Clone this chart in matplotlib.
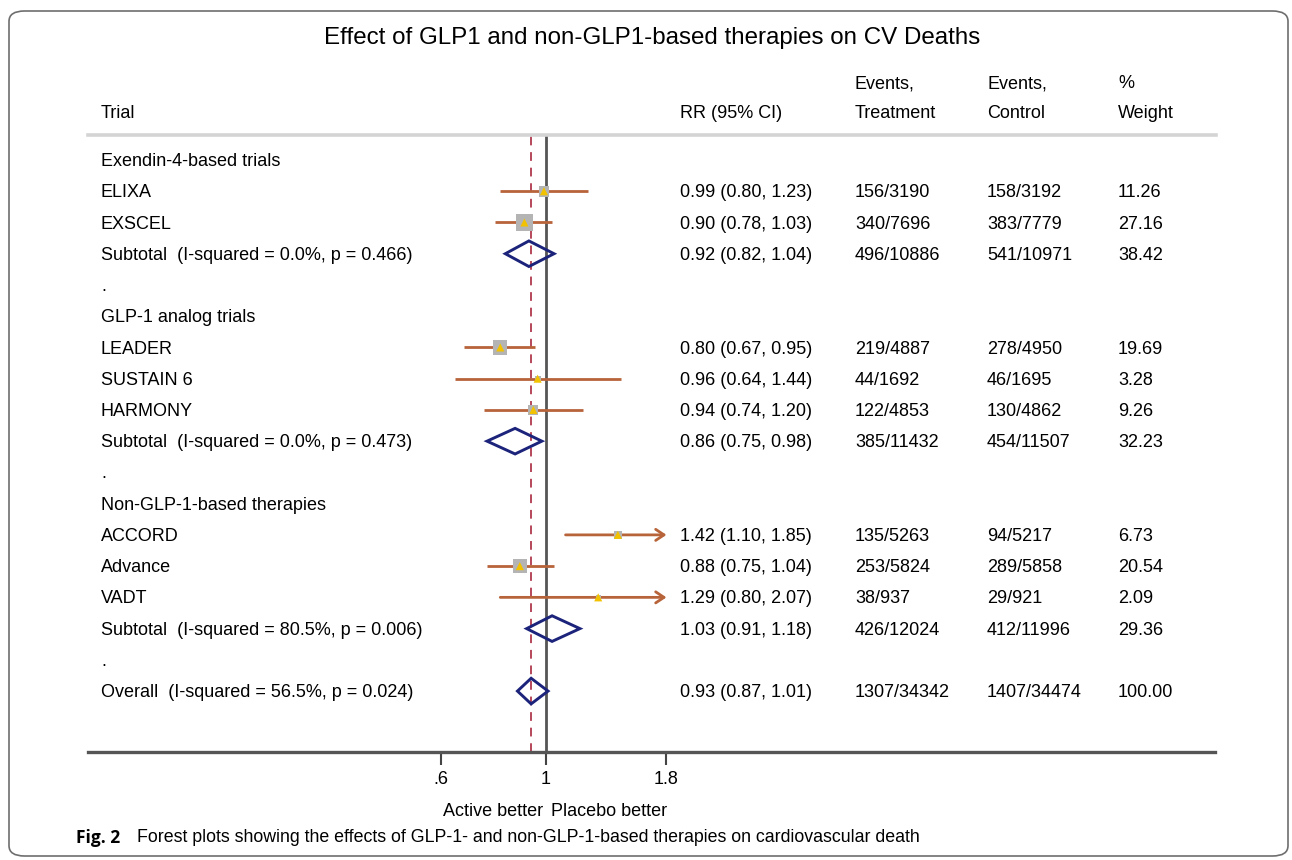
import numpy as np
import matplotlib
matplotlib.use("Agg")
import matplotlib.pyplot as plt
import matplotlib.transforms as mtransforms
from matplotlib.patches import FancyBboxPatch, Polygon

# ---- data ---------------------------------------------------------------
row_labels = [
    "Exendin-4-based trials", "ELIXA", "EXSCEL",
    "Subtotal  (I-squared = 0.0%, p = 0.466)", ".",
    "GLP-1 analog trials", "LEADER", "SUSTAIN 6", "HARMONY",
    "Subtotal  (I-squared = 0.0%, p = 0.473)", ".",
    "Non-GLP-1-based therapies", "ACCORD", "Advance", "VADT",
    "Subtotal  (I-squared = 80.5%, p = 0.006)", ".",
    "Overall  (I-squared = 56.5%, p = 0.024)",
]
# row type: h = heading / blank, t = trial, s = subtotal / overall diamond
row_kind = ["h", "t", "t", "s", "h", "h", "t", "t", "t", "s", "h",
            "h", "t", "t", "t", "s", "h", "s"]
rr = [None, 0.99, 0.90, 0.92, None, None, 0.80, 0.96, 0.94, 0.86, None,
      None, 1.42, 0.88, 1.29, 1.03, None, 0.93]
ci_low = [None, 0.80, 0.78, 0.82, None, None, 0.67, 0.64, 0.74, 0.75, None,
          None, 1.10, 0.75, 0.80, 0.91, None, 0.87]
ci_high = [None, 1.23, 1.03, 1.04, None, None, 0.95, 1.44, 1.20, 0.98, None,
           None, 1.85, 1.04, 2.07, 1.18, None, 1.01]
events_treat = ["", "156/3190", "340/7696", "496/10886", "", "",
                "219/4887", "44/1692", "122/4853", "385/11432", "", "",
                "135/5263", "253/5824", "38/937", "426/12024", "", "1307/34342"]
events_ctrl = ["", "158/3192", "383/7779", "541/10971", "", "",
               "278/4950", "46/1695", "130/4862", "454/11507", "", "",
               "94/5217", "289/5858", "29/921", "412/11996", "", "1407/34474"]
weight = [None, 11.26, 27.16, 38.42, None, None, 19.69, 3.28, 9.26, 32.23,
          None, None, 6.73, 20.54, 2.09, 29.36, None, 100.00]
overall_rr = 0.93
x_ticks = [0.6, 1, 1.8]
x_tick_labels = [".6", "1", "1.8"]

title = "Effect of GLP1 and non-GLP1-based therapies on CV Deaths"
caption = "Forest plots showing the effects of GLP-1- and non-GLP-1-based therapies on cardiovascular death"

# ---- style --------------------------------------------------------------
W, H = 1292, 860
FONT = "Liberation Sans"
FS = 13
CI_COLOR = "#b8643a"
DIAMOND_COLOR = "#1c237a"
DASH_COLOR = "#b5485a"
AXIS_COLOR = "#555555"

plt.rcParams["font.family"] = [FONT, "DejaVu Sans"]

fig = plt.figure(figsize=(W / 100, H / 100), dpi=100)
fig.patch.set_facecolor("white")


def fx(px):
    return px / W


def fy(py):
    return 1 - py / H


# outer rounded frame
frame = FancyBboxPatch((fx(9), fy(856)), fx(1288) - fx(9), fy(11) - fy(856),
                       boxstyle="round,pad=0,rounding_size=0.012",
                       transform=fig.transFigure, fill=False,
                       edgecolor="#6e6e6e", linewidth=1.2)
fig.patches.append(frame)

# plot area: spans the full table width, log-scaled RR axis
ax_left, ax_right, ax_top, ax_bottom = 88, 1215, 135, 752
ax = fig.add_axes([fx(ax_left), fy(ax_bottom), fx(ax_right - ax_left),
                   (ax_bottom - ax_top) / H])
ax.set_xscale("log")
px_per_unit = 205.0
one_px = 546
ax.set_xlim(np.exp((ax_left - one_px) / px_per_unit),
            np.exp((ax_right - one_px) / px_per_unit))
row_px0, row_step = 160, 31.24
ax.set_ylim((ax_bottom - row_px0) / row_step, (ax_top - row_px0) / row_step)
ax.patch.set_alpha(0)

for side in ["top", "left", "right"]:
    ax.spines[side].set_visible(False)
ax.spines["bottom"].set_color(AXIS_COLOR)
ax.spines["bottom"].set_linewidth(2.4)
ax.set_yticks([])
ax.set_xticks(x_ticks)
ax.set_xticklabels(x_tick_labels)
ax.xaxis.set_minor_locator(matplotlib.ticker.NullLocator())
ax.tick_params(axis="x", direction="out", length=9, width=1.5,
               color="#444444", labelsize=FS, pad=5)

# reference lines
ax.axvline(1, color="#555555", linewidth=2.0, zorder=1)
ax.axvline(overall_rr, color=DASH_COLOR, linewidth=1.4,
           linestyle=(0, (4.5, 3.5)), zorder=1)

clip_hi = max(x_ticks)
for i, kind in enumerate(row_kind):
    if kind == "t":
        hi = min(ci_high[i], clip_hi)
        if ci_high[i] > clip_hi:
            ax.annotate("", xy=(hi, i), xytext=(ci_low[i], i),
                        arrowprops=dict(arrowstyle="->,head_length=0.6,head_width=0.4",
                                        color=CI_COLOR, lw=2.0,
                                        shrinkA=0, shrinkB=0), zorder=2)
        else:
            ax.plot([ci_low[i], hi], [i, i], color=CI_COLOR, lw=2.0,
                    solid_capstyle="butt", zorder=2)
        ax.scatter([rr[i]], [i], marker="s", s=5.3 * weight[i],
                   color="#b4b4b4", edgecolors="none", zorder=3)
        ax.scatter([rr[i]], [i], marker="^", s=34, color="#f2c200",
                   edgecolors="none", zorder=4)
    elif kind == "s":
        h = 0.41
        diamond = Polygon([(ci_low[i], i), (rr[i], i - h), (ci_high[i], i),
                           (rr[i], i + h)], closed=True, fill=False,
                          edgecolor=DIAMOND_COLOR, linewidth=2.1, zorder=3)
        ax.add_patch(diamond)

# ---- table text ---------------------------------------------------------
trans = mtransforms.blended_transform_factory(fig.transFigure, ax.transData)
col_rr, col_tr, col_ct, col_wt = 680, 855, 987, 1118
dy = 0.05
for i, label in enumerate(row_labels):
    ax.text(fx(101), i + dy, label, transform=trans, ha="left", va="center",
            fontsize=FS, clip_on=False)
    if rr[i] is not None:
        ax.text(fx(col_rr), i + dy, f"{rr[i]:.2f} ({ci_low[i]:.2f}, {ci_high[i]:.2f})",
                transform=trans, ha="left", va="center", fontsize=FS)
        ax.text(fx(col_tr), i + dy, events_treat[i], transform=trans, ha="left",
                va="center", fontsize=FS)
        ax.text(fx(col_ct), i + dy, events_ctrl[i], transform=trans, ha="left",
                va="center", fontsize=FS)
        ax.text(fx(col_wt), i + dy, f"{weight[i]:.2f}", transform=trans, ha="left",
                va="center", fontsize=FS)

# headers
fig.text(fx(101), fy(114), "Trial", ha="left", va="center", fontsize=FS)
fig.text(fx(col_rr), fy(114), "RR (95% CI)", ha="left", va="center", fontsize=FS)
for x, top, bottom in [(col_tr, "Events,", "Treatment"),
                       (col_ct, "Events,", "Control"),
                       (col_wt, "%", "Weight")]:
    fig.text(fx(x), fy(84), top, ha="left", va="center", fontsize=FS)
    fig.text(fx(x), fy(114), bottom, ha="left", va="center", fontsize=FS)
fig.add_artist(plt.Line2D([fx(88), fx(1216)], [fy(135), fy(135)],
                          color="#d4d4d4", linewidth=2.6))

fig.text(fx(652), fy(38), title, ha="center", va="center", fontsize=17.4)

# direction labels
fig.text(fx(543), fy(812), "Active better", ha="right", va="center", fontsize=FS)
fig.text(fx(551), fy(812), "Placebo better", ha="left", va="center", fontsize=FS)

# caption
fig.text(fx(76), fy(838), "Fig. 2", ha="left", va="center", fontsize=12.5,
         fontweight="bold", family="Open Sans")
fig.text(fx(137), fy(838), caption, ha="left", va="center", fontsize=12.8,
         family=["Liberation Sans Narrow", "Liberation Sans"])

fig.savefig("out.png", dpi=100)
